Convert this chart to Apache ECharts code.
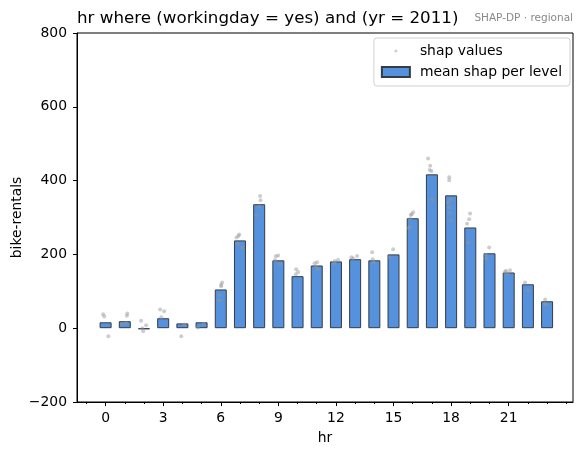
<!DOCTYPE html>
<html>
<head>
<meta charset="utf-8">
<script src="https://cdn.jsdelivr.net/npm/echarts@6/dist/echarts.min.js"></script>
<style>
  html, body { margin: 0; padding: 0; background: #fff; }
  #chart { width: 583px; height: 455px; }
</style>
</head>
<body>
<div id="chart"></div>
<script>
// hours 0..23 and mean shap per level
const hours = [0, 1, 2, 3, 4, 5, 6, 7, 8, 9, 10, 11, 12, 13, 14, 15, 16, 17, 18, 19, 20, 21, 22, 23]
const meanShap = [16, 19, -3, 27, 13, 16, 105, 238, 336, 184, 141, 170, 181, 187, 184, 200, 298, 417, 360, 273, 203, 151, 119, 73]

// individual shap values (jittered hr position, value)
const shapX = [
  -0.13, -0.07, 0.14,
  1.13, 1.11, 0.86, 1.06,
  1.85, 2.11, 1.91, 1.96,
  2.84, 3.05, 2.9,
  3.94, 4.1,
  4.81, 5.1,
  6.07, 6.02, 6.02, 5.95, 5.92,
  6.96, 6.92, 6.82, 6.91, 7.11,
  8.05, 8.07, 8.0, 7.86,
  8.99, 8.87, 8.83, 9.08,
  9.93, 10.03, 9.91,
  11.02, 10.89, 10.97, 11.06,
  11.94, 12.11, 11.89,
  12.81, 13.1, 12.9,
  13.89, 13.92, 13.97,
  14.98, 14.77,
  16.02, 15.95, 15.9, 15.86, 15.85, 15.8,
  16.8, 16.91, 16.88, 16.98, 17.01,
  17.9, 17.9, 17.98, 17.86, 17.9, 17.95, 18.0,
  18.99, 18.94, 18.83, 18.9,
  19.98, 19.81, 19.82,
  20.86, 21.07, 20.95, 20.8,
  21.85, 22.03,
  22.9, 22.85, 22.95
]
const shapY = [
  38, 32, -22,
  40, 34, 12, 14,
  20, 8, 0, -8,
  51, 46, 30,
  -22, 10,
  2, 12,
  124, 118, 114, 90, 76,
  254, 250, 246, 228, 218,
  358, 347, 329, 306,
  197, 195, 185, 174,
  160, 152, 146,
  179, 176, 167, 160,
  182, 185, 176,
  192, 196, 189,
  206, 187, 179,
  214, 192,
  314, 309, 307, 296, 274, 271,
  460, 440, 429, 426, 349,
  409, 401, 349, 341, 328, 313, 292,
  311, 295, 283, 232,
  219, 199, 189,
  156, 157, 149, 152,
  124, 102,
  78, 66, 64
]

const majorTicks = [0, 3, 6, 9, 12, 15, 18, 21]
const minorTicks = [-1, 0, 1, 2, 3, 4, 5, 6, 7, 8, 9, 10, 11, 12, 13, 14, 15, 16, 17, 18, 19, 20, 21, 22, 23, 24]

const font = 'DejaVu Sans'
const xMin = -1.49
const xMax = 24.35

let myChart = echarts.init(document.querySelector('#chart'), null, { renderer: 'canvas' })

let option = {
    animation: false,
    textStyle: { fontFamily: font },
    title: [{
        text: 'hr where (workingday = yes) and (yr = 2011)',
        left: 77,
        top: 10,
        padding: 0,
        textStyle: { fontFamily: font, fontSize: 16.7, fontWeight: 'normal', color: '#000' }
    }, {
        text: 'SHAP-DP · regional',
        right: 10,
        top: 13,
        padding: 0,
        textStyle: { fontFamily: font, fontSize: 10.5, fontWeight: 'normal', color: '#888' }
    }],
    legend: {
        orient: 'vertical',
        right: 13,
        top: 38,
        align: 'left',
        itemWidth: 28,
        itemHeight: 10,
        itemGap: 7,
        padding: [6, 8, 7, 7],
        borderColor: '#d0d0d0',
        borderWidth: 1,
        borderRadius: 3,
        textStyle: { fontFamily: font, fontSize: 13.9, color: '#000', padding: [0, 0, 0, 5] },
        data: [
            { name: 'shap values', icon: 'path://M12.5,4.5a1.5,1.5 0 1,0 3,0a1.5,1.5 0 1,0 -3,0z M0,0h0.01v0.01h-0.01z M28,9h0.01v0.01h-0.01z' },
            { name: 'mean shap per level', icon: 'rect' }
        ]
    },
    grid: {
        left: 77,
        right: 10,
        top: 33,
        bottom: 53,
        outerBoundsMode: 'none',
        containLabel: false,
        show: true,
        borderColor: '#000',
        borderWidth: 1,
        backgroundColor: 'transparent'
    },
    xAxis: [{
        type: 'value',
        min: xMin,
        max: xMax,
        name: 'hr',
        nameLocation: 'middle',
        nameGap: 29,
        nameMoveOverlap: false,
        nameTextStyle: { fontFamily: font, fontSize: 13.9, color: '#000' },
        axisLine: { show: true, onZero: false, lineStyle: { color: '#000', width: 1 } },
        axisTick: { show: true, length: 4, customValues: majorTicks, lineStyle: { color: '#000' } },
        axisLabel: { customValues: majorTicks, color: '#000', fontSize: 13.9, fontFamily: font, margin: 9 },
        splitLine: { show: false }
    }, {
        type: 'value',
        min: xMin,
        max: xMax,
        position: 'bottom',
        axisLine: { show: false, onZero: false },
        axisTick: { show: true, length: 2, customValues: minorTicks, lineStyle: { color: '#000' } },
        axisLabel: { show: false },
        splitLine: { show: false }
    }],
    yAxis: {
        type: 'value',
        min: -200,
        max: 800,
        interval: 200,
        name: 'bike-rentals',
        nameLocation: 'middle',
        nameGap: 53,
        nameMoveOverlap: false,
        nameTextStyle: { fontFamily: font, fontSize: 13.9, color: '#000' },
        axisLine: { show: true, onZero: false, lineStyle: { color: '#000', width: 1 } },
        axisTick: { show: true, length: 4, lineStyle: { color: '#000' } },
        axisLabel: {
            color: '#000', fontSize: 13.9, fontFamily: font, margin: 10,
            formatter: v => (v < 0 ? '\u2212' + Math.abs(v) : String(v))
        },
        splitLine: { show: false }
    },
    series: [{
        name: 'mean shap per level',
        type: 'bar',
        xAxisIndex: 0,
        barWidth: 12,
        itemStyle: { color: '#5591dc', borderColor: '#343c48', borderWidth: 1 },
        data: hours.map((h, i) => [h, meanShap[i]]),
        z: 2
    }, {
        name: 'shap values',
        type: 'scatter',
        xAxisIndex: 0,
        symbolSize: 4,
        itemStyle: { color: 'rgba(150,150,150,0.6)' },
        data: shapX.map((x, i) => [x, shapY[i]]),
        z: 3
    }]
}

myChart.setOption(option)
</script>
</body>
</html>
